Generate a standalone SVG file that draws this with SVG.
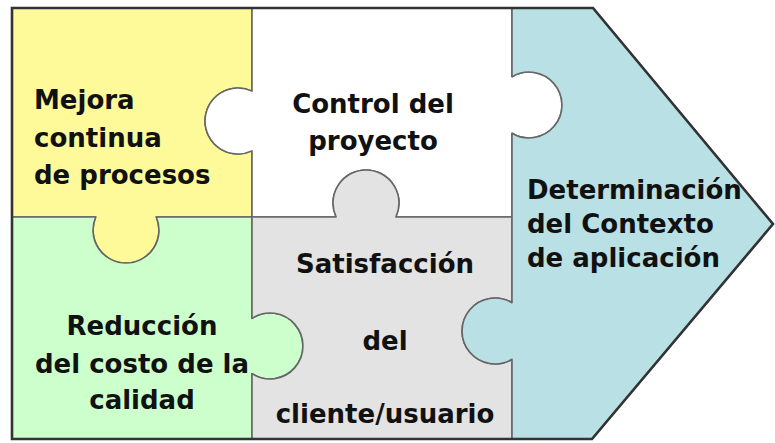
<svg xmlns="http://www.w3.org/2000/svg" width="775" height="443" viewBox="0 0 775 443">
<style>
.piece{stroke:#666;stroke-width:1.6;stroke-linejoin:round}
.lbl{font-family:"DejaVu Sans","Liberation Sans",sans-serif;font-weight:bold;font-size:26px;fill:#111}
.mid{text-anchor:middle}
</style>
<rect width="775" height="443" fill="#ffffff"/>
<g id="mejora">
<path class="piece" fill="#FFFA99" d="M12,8 H252 V91.1 A33,33 0 1 0 252,150.9 V217 H156.3 A33,33 0 1 1 95.7,217 H12 Z"/>
<text class="lbl" x="34" y="109">Mejora</text>
<text class="lbl" x="34" y="147">continua</text>
<text class="lbl" x="34" y="184">de procesos</text>
</g>
<g id="control">
<path class="piece" fill="#FFFFFF" d="M252,8 H512 V76.7 A33,33 0 1 1 512,133.3 V217 H395.9 A33,33 0 1 0 336.1,217 H252 V150.9 A33,33 0 1 1 252,91.1 Z"/>
<text class="lbl mid" x="373" y="113">Control del</text>
<text class="lbl mid" x="373" y="150">proyecto</text>
</g>
<g id="reduccion">
<path class="piece" fill="#CCFFCC" d="M12,217 H95.7 A33,33 0 1 0 156.3,217 H252 V318.3 A33,33 0 1 1 252,373.7 V439 H12 Z"/>
<text class="lbl mid" x="142" y="335">Reducción</text>
<text class="lbl mid" x="142" y="373">del costo de la</text>
<text class="lbl mid" x="142" y="409">calidad</text>
</g>
<g id="satisfaccion">
<path class="piece" fill="#E3E3E3" d="M252,217 H336.1 A33,33 0 1 1 395.9,217 H512 V302.7 A33,33 0 1 0 512,359.3 V439 H252 V373.7 A33,33 0 1 0 252,318.3 Z"/>
<text class="lbl mid" x="385" y="273">Satisfacción</text>
<text class="lbl mid" x="385" y="350">del</text>
<text class="lbl mid" x="385" y="423">cliente/usuario</text>
</g>
<g id="contexto">
<path class="piece" fill="#B9E0E4" d="M512,8 H593 L773,224 L592,439 H512 V359.3 A33,33 0 1 1 512,302.7 V133.3 A33,33 0 1 0 512,76.7 Z"/>
<text class="lbl" x="527" y="199">Determinación</text>
<text class="lbl" x="527" y="233">del Contexto</text>
<text class="lbl" x="527" y="267">de aplicación</text>
</g>
<g id="connectors"></g>
<path d="M12,8 H593 L773,224 L592,439 H12 Z" fill="none" stroke="#333" stroke-width="2.6" stroke-linejoin="miter"/>
</svg>
